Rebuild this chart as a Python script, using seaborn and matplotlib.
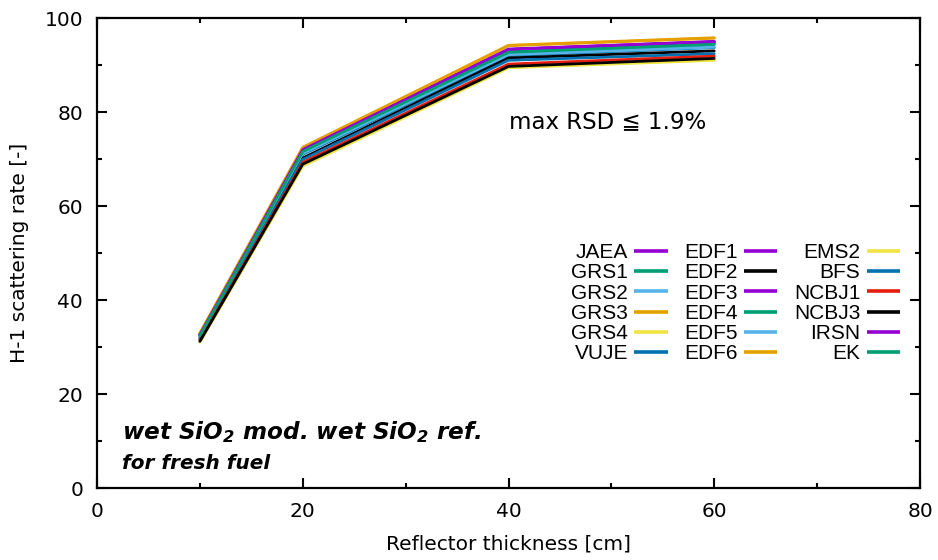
import matplotlib
matplotlib.use("Agg")
import matplotlib.pyplot as plt
import seaborn as sns
import pandas as pd
from matplotlib.lines import Line2D

thickness = [10, 20, 40, 60]

labels = ["JAEA", "GRS1", "GRS2", "GRS3", "GRS4", "VUJE",
          "EDF1", "EDF2", "EDF3", "EDF4", "EDF5", "EDF6",
          "EMS2", "BFS", "NCBJ1", "NCBJ3", "IRSN", "EK"]

JAEA  = [32.7, 72.1, 93.3, 95.0]
GRS1  = [32.5, 71.7, 92.9, 94.6]
GRS2  = [32.3, 71.4, 92.4, 94.1]
GRS3  = [32.9, 72.4, 94.2, 95.8]
GRS4  = [31.1, 68.6, 89.5, 91.1]
VUJE  = [32.1, 71.0, 92.0, 93.7]
EDF1  = [32.6, 72.0, 93.2, 94.9]
EDF2  = [31.8, 70.2, 91.5, 93.0]
EDF3  = [32.7, 72.1, 93.4, 95.0]
EDF4  = [32.5, 71.8, 92.8, 94.5]
EDF5  = [32.2, 71.2, 92.2, 93.8]
EDF6  = [32.9, 72.5, 94.1, 95.7]
EMS2  = [31.1, 68.5, 89.4, 91.0]
BFS   = [31.6, 69.9, 91.0, 92.4]
NCBJ1 = [31.4, 69.3, 90.2, 91.9]
NCBJ3 = [31.2, 68.9, 89.7, 91.4]
IRSN  = [32.6, 72.0, 93.3, 94.9]
EK    = [32.4, 71.6, 92.7, 94.4]

series = [JAEA, GRS1, GRS2, GRS3, GRS4, VUJE,
          EDF1, EDF2, EDF3, EDF4, EDF5, EDF6,
          EMS2, BFS, NCBJ1, NCBJ3, IRSN, EK]

purple, green, lblue, orange, yellow, blue, red, black = (
    "#9400d3", "#009e73", "#56b4e9", "#e69f00", "#f0e442", "#0072b2", "#e51e10", "#000000")
colors = [purple, green, lblue, orange, yellow, blue,
          purple, black, purple, green, lblue, orange,
          yellow, blue, red, black, purple, green]

rows = []
for lab, vals in zip(labels, series):
    for x, v in zip(thickness, vals):
        rows.append({"lab": lab, "x": x, "y": v})
df = pd.DataFrame(rows)

sns.set_style("ticks")
plt.rcParams["font.family"] = ["DejaVu Sans"]
plt.rcParams["text.color"] = "black"
plt.rcParams["axes.labelcolor"] = "black"
plt.rcParams["xtick.color"] = "black"
plt.rcParams["ytick.color"] = "black"
plt.rcParams["axes.edgecolor"] = "black"

fig = plt.figure(figsize=(9.38, 5.6), dpi=100)
ax = fig.add_axes([97/938, 1-488/560, 823/938, 470/560])

sns.lineplot(data=df, x="x", y="y", hue="lab", hue_order=labels,
             palette=dict(zip(labels, colors)), linewidth=2.0, ax=ax,
             legend=False, sort=False)

ax.set_xlim(0, 80)
ax.set_ylim(0, 100)
ax.set_xticks([0, 20, 40, 60, 80])
ax.set_yticks([0, 20, 40, 60, 80, 100])
ax.set_xticks([10, 30, 50, 70], minor=True)
ax.set_yticks([10, 30, 50, 70, 90], minor=True)
ax.tick_params(which="both", direction="in", top=True, right=True, width=1.5,
               color="black", labelcolor="black")
ax.tick_params(which="major", length=7, labelsize=14.5)
ax.tick_params(axis="x", which="major", pad=10)
ax.tick_params(axis="y", which="major", pad=10)
ax.tick_params(which="minor", length=3.8)
for s in ax.spines.values():
    s.set_visible(True)
    s.set_linewidth(1.6)
    s.set_color("black")
ax.set_xlabel("Reflector thickness [cm]", fontsize=14.5, labelpad=10)
ax.set_ylabel("H-1 scattering rate [-]", fontsize=14.5, labelpad=11)

handles = [Line2D([], [], color=c, lw=2.6, solid_capstyle="butt") for c in colors]
leg = ax.legend(handles, labels, ncol=3, markerfirst=False, frameon=False,
                loc="upper right", bbox_to_anchor=(0.9935, 0.552),
                prop={"family": "Liberation Sans", "size": 15},
                handlelength=1.6, handletextpad=0.3, columnspacing=0.8,
                labelspacing=0.06, borderpad=0.2)
for t in leg.get_texts():
    t.set_color("black")

ax.text(0.5, 0.78, "max RSD \u2266 1.9%", transform=ax.transAxes,
        fontsize=16.5, family=["DejaVu Sans"], ha="left", va="center")

plt.rcParams["mathtext.fontset"] = "custom"
plt.rcParams["mathtext.bf"] = "DejaVu Sans:bold:italic"
plt.rcParams["mathtext.rm"] = "DejaVu Sans:bold:italic"
ax.text(0.03, 0.118, r"wet SiO$_\mathbf{2}$ mod. wet SiO$_\mathbf{2}$ ref.",
        transform=ax.transAxes, fontsize=16.7, fontweight="bold", style="italic",
        ha="left", va="center")
ax.text(0.03, 0.053, "for fresh fuel", transform=ax.transAxes, fontsize=14.4,
        fontweight="bold", style="italic", ha="left", va="center")

fig.savefig("out.png", dpi=100)
